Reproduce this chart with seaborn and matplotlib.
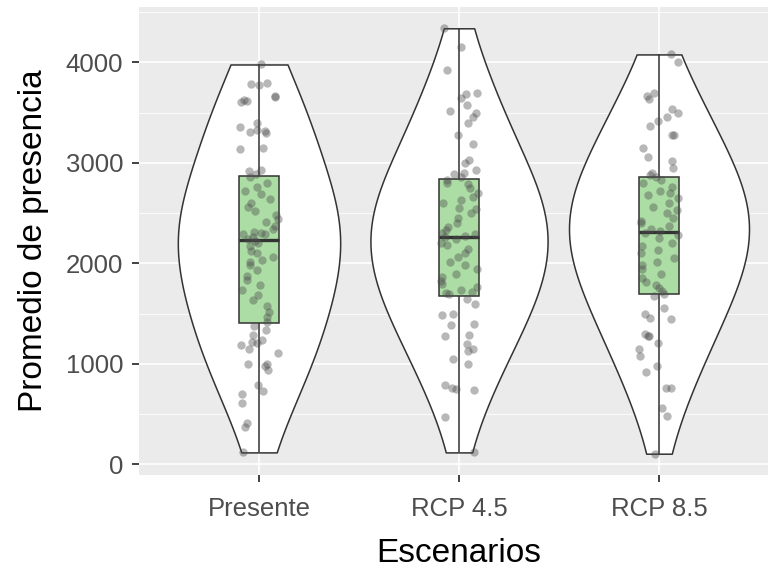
import numpy as np
import pandas as pd
import seaborn as sns
import matplotlib.pyplot as plt

# Promedio de presencia por escenario
presente = [3980, 3800, 3790, 3780, 3670, 3660, 3630, 3620, 3610, 3400,
            3360, 3330, 3320, 3310, 3300, 3150, 3140, 2930, 2920, 2890,
            2860, 2800, 2760, 2720, 2690, 2640, 2600, 2560, 2520, 2480,
            2440, 2410, 2370, 2340, 2310, 2290, 2290, 2300, 2260, 2240,
            2220, 2200, 2170, 2120, 2100, 2060, 2030, 2010, 1980, 1930,
            1880, 1840, 1790, 1740, 1690, 1640, 1580, 1520, 1470, 1420,
            1380, 1340, 1290, 1240, 1220, 1210, 1190, 1150, 1110, 1000,
            1000, 980, 940, 790, 730, 700, 610, 410, 370, 120]

rcp45 = [4340, 4150, 3930, 3700, 3690, 3650, 3580, 3520, 3500, 3460,
         3400, 3280, 3190, 3030, 3000, 2930, 2900, 2890, 2860,
         2830, 2800, 2790, 2750, 2700, 2660, 2630, 2600, 2550, 2540,
         2500, 2450, 2400, 2360, 2330, 2300, 2290, 2270, 2260,
         2240, 2200, 2180, 2140, 2100, 2060, 2010, 1980, 1940, 1900,
         1870, 1830, 1800, 1770, 1740, 1720, 1710, 1700,
         1650, 1600, 1500, 1490, 1400, 1390, 1290, 1280, 1200, 1150,
         1130, 1050, 1000, 790, 760, 750, 740, 470, 120]

rcp85 = [4080, 4000, 3700, 3670, 3640, 3540, 3500, 3460, 3420, 3370,
         3280, 3280, 3150, 3060, 3020, 2950, 2900, 2880,
         2860, 2830, 2800, 2760, 2720, 2700, 2680, 2650, 2600, 2560,
         2530, 2500, 2450, 2420, 2400, 2370, 2340, 2320,
         2300, 2280, 2250, 2200, 2170, 2130, 2100, 2050, 2010, 1980,
         1940, 1900, 1860, 1820, 1790, 1760, 1730, 1700,
         1680, 1560, 1500, 1460, 1450, 1300, 1280, 1280, 1210, 1150,
         1080, 980, 920, 760, 760, 560, 480, 107]

escenarios = ["Presente", "RCP 4.5", "RCP 8.5"]

df = pd.DataFrame({
    "Escenarios": [escenarios[0]] * len(presente) + [escenarios[1]] * len(rcp45)
                  + [escenarios[2]] * len(rcp85),
    "Promedio": presente + rcp45 + rcp85,
})

plt.rcParams['font.family'] = ['Liberation Sans', 'DejaVu Sans']

fig = plt.figure(figsize=(7.68, 5.68), dpi=100)
# panel runs a bit past the right edge, as in the reference
ax = fig.add_axes([139 / 768, 93 / 568, 640 / 768, 468 / 568])
ax.set_facecolor("#EBEBEB")

line_col = "#333333"

sns.violinplot(data=df, x="Escenarios", y="Promedio", order=escenarios,
               cut=0, density_norm="area", width=0.9, inner=None,
               color="white", linecolor=line_col, linewidth=1.1,
               bw_method=0.62, saturation=1, ax=ax)

sns.boxplot(data=df, x="Escenarios", y="Promedio", order=escenarios,
            width=0.2, whis=(0, 100), showfliers=False, showcaps=False,
            color="#ABDDA4", saturation=1, linecolor=line_col, linewidth=1.1,
            medianprops={"linewidth": 2.4, "color": line_col}, ax=ax)

np.random.seed(3)
sns.stripplot(data=df, x="Escenarios", y="Promedio", order=escenarios,
              jitter=0.1, color="#4D4D4D", alpha=0.4, size=6,
              linewidth=0, ax=ax)

ax.set_xlim(-0.6, 2.6)
ax.set_ylim(-105, 4552)
ax.set_yticks([0, 1000, 2000, 3000, 4000])
ax.set_yticks([500, 1500, 2500, 3500, 4500], minor=True)

ax.grid(which="major", color="white", linewidth=1.2)
ax.grid(which="minor", axis="y", color="white", linewidth=0.6)
ax.set_axisbelow(True)
for s in ax.spines.values():
    s.set_visible(False)

ax.tick_params(which="major", length=5, width=1.3, color=line_col,
               labelsize=18.5, labelcolor="#4D4D4D")
ax.tick_params(axis="x", pad=11)
ax.tick_params(axis="y", pad=6.5)
ax.tick_params(which="minor", length=0)

ax.set_xlabel("Escenarios", fontsize=24, color="black", labelpad=12)
ax.set_ylabel("Promedio de presencia", fontsize=24, color="black", labelpad=12)

fig.savefig("out.png", dpi=100)
